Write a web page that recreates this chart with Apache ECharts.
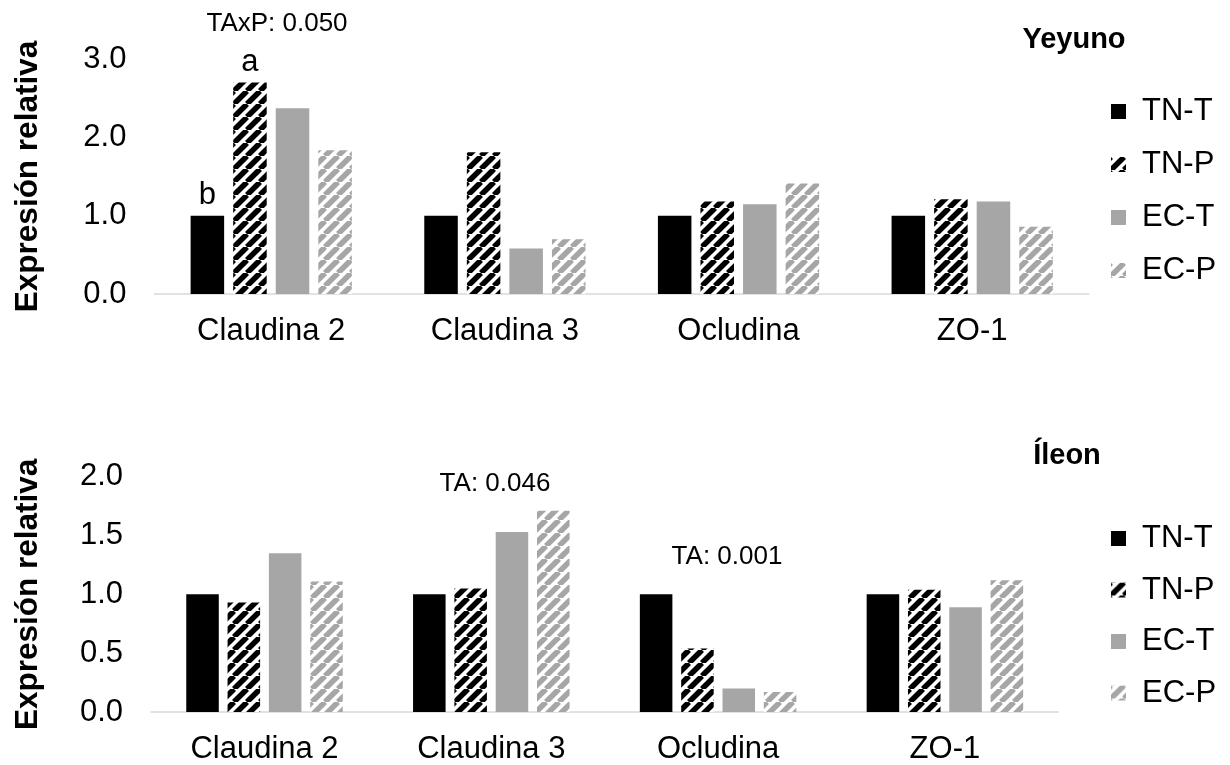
<!DOCTYPE html>
<html>
<head>
<meta charset="utf-8">
<script src="https://cdn.jsdelivr.net/npm/echarts@6/dist/echarts.min.js"></script>
<style>
  html, body { margin: 0; padding: 0; background: #fff; }
  #chart { width: 1230px; height: 765px; }
</style>
</head>
<body>
<div id="chart"></div>
<script>
// Genes (categories) and treatment groups
const categories = ['Claudina 2', 'Claudina 3', 'Ocludina', 'ZO-1'];
const groupNames = ['TN-T', 'TN-P', 'EC-T', 'EC-P'];

// Yeyuno: relative expression
const yeyunoTNT = [1.00, 1.00, 1.00, 1.00];
const yeyunoTNP = [2.70, 1.81, 1.18, 1.21];
const yeyunoECT = [2.37, 0.58, 1.145, 1.18];
const yeyunoECP = [1.835, 0.70, 1.41, 0.86];
// significance letters (Yeyuno)
const yeyunoTNTsig = ['b', '', '', ''];
const yeyunoTNPsig = ['a', '', '', ''];

// Íleon: relative expression
const ileonTNT = [1.00, 1.00, 1.00, 1.00];
const ileonTNP = [0.93, 1.05, 0.54, 1.04];
const ileonECT = [1.35, 1.53, 0.20, 0.89];
const ileonECP = [1.11, 1.71, 0.17, 1.12];

// y-axis ranges
const yeyunoAxis = { min: 0, max: 3, interval: 1 };
const ileonAxis = { min: 0, max: 2, interval: 0.5 };

const FONT = '"Liberation Sans", Arial, sans-serif';
const GRAY = '#a6a6a6';

// diagonal upward stripes as a repeating canvas pattern
function stripes(color, period, width) {
  const c = document.createElement('canvas');
  c.width = c.height = period;
  const g = c.getContext('2d');
  g.fillStyle = '#ffffff';
  g.fillRect(0, 0, period, period);
  g.strokeStyle = color;
  g.lineWidth = width;
  for (const k of [-period, 0, period]) {
    g.beginPath();
    g.moveTo(k, period);
    g.lineTo(k + period, 0);
    g.stroke();
  }
  return { image: c, repeat: 'repeat' };
}

const fills = {
  'TN-T': '#000000',
  'TN-P': stripes('#000000', 13, 5.5),
  'EC-T': GRAY,
  'EC-P': stripes(GRAY, 13, 5.5)
};

function withLetters(values, letters) {
  return values.map((v, i) => letters && letters[i]
    ? { value: v, label: { show: true, formatter: letters[i] } }
    : v);
}

function barSeries(name, values, axisIdx, letters) {
  return {
    type: 'bar',
    name: name,
    xAxisIndex: axisIdx,
    yAxisIndex: axisIdx,
    barGap: '27%',
    barCategoryGap: '31%',
    itemStyle: { color: fills[name] },
    label: {
      show: false, position: 'top', distance: 5,
      fontFamily: FONT, fontSize: 31, color: '#000'
    },
    emphasis: { disabled: true },
    animation: false,
    data: withLetters(values, letters)
  };
}

function xAxisFor(gridIndex) {
  return {
    type: 'category',
    gridIndex: gridIndex,
    data: categories,
    axisLine: { lineStyle: { color: '#d9d9d9', width: 1.5 } },
    axisTick: { show: false },
    axisLabel: { fontFamily: FONT, fontSize: 31, color: '#000', margin: 22 }
  };
}

function yAxisFor(gridIndex, range, gap) {
  return {
    type: 'value',
    gridIndex: gridIndex,
    min: range.min, max: range.max, interval: range.interval,
    name: 'Expresión relativa',
    nameLocation: 'middle',
    nameGap: gap,
    nameTextStyle: { fontFamily: FONT, fontSize: 31.5, fontWeight: 'bold', color: '#000' },
    axisLine: { show: false },
    axisTick: { show: false },
    splitLine: { show: false },
    axisLabel: {
      fontFamily: FONT, fontSize: 31, color: '#000', margin: 28,
      padding: [5, 0, 0, 0],
      formatter: v => v.toFixed(1)
    }
  };
}

function legendAt(top, gap) {
  return {
    orient: 'vertical',
    left: 1106,
    top: top,
    icon: 'rect',
    itemWidth: 15,
    itemHeight: 15,
    itemGap: gap,
    selectedMode: false,
    data: groupNames,
    textStyle: { fontFamily: FONT, fontSize: 31, color: '#000', padding: [0, 0, 0, 11] }
  };
}

function note(text, x, y, size, bold) {
  return {
    type: 'text', x: x, y: y,
    style: {
      text: text, fill: '#000', fontFamily: FONT, fontSize: size,
      fontWeight: bold ? 'bold' : 'normal',
      align: 'center', verticalAlign: 'middle'
    }
  };
}

const option = {
  backgroundColor: '#ffffff',
  animation: false,
  grid: [
    { left: 154.4, right: 141, top: 59, bottom: 471 },
    { left: 151.1, right: 171.7, top: 476.7, bottom: 52.3 }
  ],
  xAxis: [xAxisFor(0), xAxisFor(1)],
  yAxis: [yAxisFor(0, yeyunoAxis, 110), yAxisFor(1, ileonAxis, 107)],
  legend: [legendAt(91, 22), legendAt(518, 20.5)],
  graphic: [
    note('Yeyuno', 1074, 40, 29, true),
    note('Íleon', 1067, 456, 29, true),
    note('TAxP: 0.050', 277, 24, 26, false),
    note('TA: 0.046', 495, 484, 26, false),
    note('TA: 0.001', 727, 557, 26, false)
  ],
  series: [
    barSeries('TN-T', yeyunoTNT, 0, yeyunoTNTsig),
    barSeries('TN-P', yeyunoTNP, 0, yeyunoTNPsig),
    barSeries('EC-T', yeyunoECT, 0),
    barSeries('EC-P', yeyunoECP, 0),
    barSeries('TN-T', ileonTNT, 1),
    barSeries('TN-P', ileonTNP, 1),
    barSeries('EC-T', ileonECT, 1),
    barSeries('EC-P', ileonECP, 1)
  ]
};

const chart = echarts.init(document.getElementById('chart'), null, { renderer: 'canvas' });
chart.setOption(option);
</script>
</body>
</html>
